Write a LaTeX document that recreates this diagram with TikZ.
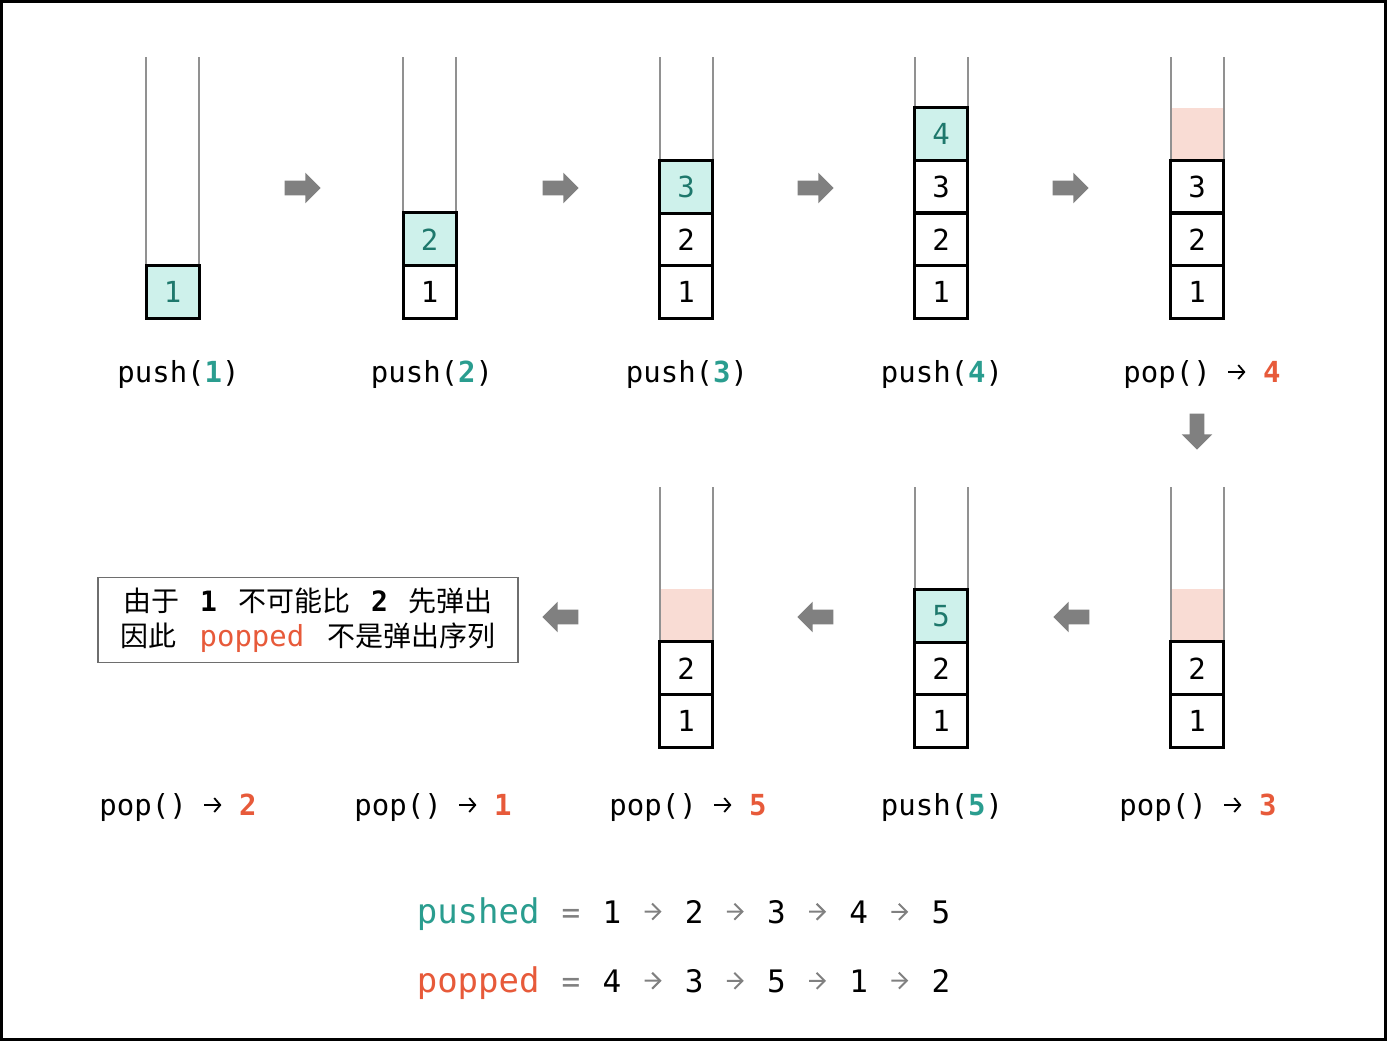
\documentclass[tikz,border=0pt]{standalone}
\usepackage{fontspec}
\setmainfont{DejaVu Sans}
\setmonofont{DejaVu Sans Mono}
\newfontfamily\cjk{Noto Sans CJK SC}
\usetikzlibrary{shapes.arrows,arrows.meta}
\definecolor{pushteal}{RGB}{42,157,143}
\definecolor{cellteal}{RGB}{206,241,235}
\definecolor{darkteal}{RGB}{30,120,108}
\definecolor{popred}{RGB}{231,90,58}
\definecolor{popfill}{RGB}{249,220,212}
\definecolor{arrowgray}{RGB}{128,128,128}
\definecolor{wallgray}{RGB}{145,145,145}
\definecolor{notegray}{RGB}{110,110,110}
\newcommand{\pushv}[1]{\textbf{\color{pushteal}#1}}
\newcommand{\popv}[1]{\textbf{\color{popred}#1}}
\newcommand{\yields}{\makebox[8.7pt][c]{\tikz[baseline={(0pt,-5pt)}]\draw[black,line width=0.9pt,-{Straight Barb[length=3pt,width=7pt]}] (0pt,0pt) -- (8.5pt,0pt);}}

\begin{document}
\begin{tikzpicture}[x=0.5pt,y=-0.5pt,
  font=\ttfamily\fontsize{14.5}{17}\selectfont,
  cell/.style={rectangle,draw=black,line width=1.5pt,minimum size=26.5pt,inner sep=0pt},
  newcell/.style={cell,fill=cellteal,text=darkteal},
  gone/.style={rectangle,fill=popfill,minimum width=25.5pt,minimum height=26.5pt,inner sep=0pt},
  wall/.style={draw=wallgray,line width=1pt},
  fatarrow/.style={single arrow,fill=arrowgray,minimum height=18pt,minimum width=15pt,single arrow head extend=4pt,inner xsep=0pt,inner ysep=3.5pt},
  oplabel/.style={anchor=base,inner sep=0pt},
  note/.style={draw=notegray,line width=0.9pt,minimum width=210pt,minimum height=42.5pt,align=center,inner sep=0pt,font=\cjk\fontsize{14}{17.5}\selectfont},
  seqword/.style={anchor=base east,inner sep=0pt,font=\ttfamily\fontsize{17}{20}\selectfont},
  seq/.style={anchor=base,inner sep=0pt,font=\ttfamily\fontsize{15.5}{18}\selectfont},
  seqarrow/.style={draw=arrowgray,line width=1pt,-{Straight Barb[length=4pt,width=8pt]},shorten <=11.5pt,shorten >=11.5pt}]
  \useasboundingbox (0,0) rectangle (1387,1041);
  \draw[line width=1.5pt] (1.5,1.5) rectangle (1385.5,1039.5);
  % stack walls
  \foreach \x/\yt/\yb in {172.5/57/318, 429.5/57/318, 686/57/318, 941/57/318, 1197/57/318, 686/487/747, 941/487/747, 1197/487/747}
    \draw[wall] (\x-26.5,\yt) -- (\x-26.5,\yb) (\x+26.5,\yt) -- (\x+26.5,\yb);
  % top row
  \foreach \s/\x/\k/\v/\st in {a/172.5/1/1/newcell, b/429.5/1/1/cell, b/429.5/2/2/newcell,
      c/686/1/1/cell, c/686/2/2/cell, c/686/3/3/newcell,
      d/941/1/1/cell, d/941/2/2/cell, d/941/3/3/cell, d/941/4/4/newcell,
      e/1197/4//gone, e/1197/1/1/cell, e/1197/2/2/cell, e/1197/3/3/cell}
    \node[\st] (\s\k) at (\x,{291.75-(\k-1)*52.5}) {\v};
  % bottom row
  \foreach \s/\x/\k/\v/\st in {f/1197/3//gone, f/1197/1/1/cell, f/1197/2/2/cell,
      g/941/1/1/cell, g/941/2/2/cell, g/941/3/5/newcell,
      h/686/3//gone, h/686/1/1/cell, h/686/2/2/cell}
    \node[\st] (\s\k) at (\x,{720.75-(\k-1)*52.5}) {\v};
  % operations
  \node[oplabel] (opa) at (178.5,382) {push(\pushv{1})};
  \node[oplabel] (opb) at (432,382) {push(\pushv{2})};
  \node[oplabel] (opc) at (687,382) {push(\pushv{3})};
  \node[oplabel] (opd) at (942,382) {push(\pushv{4})};
  \node[oplabel] (ope) at (1202,382) {pop() \yields{} \popv{4}};
  \node[oplabel] (opf) at (1198,815) {pop() \yields{} \popv{3}};
  \node[oplabel] (opg) at (942,815) {push(\pushv{5})};
  \node[oplabel] (oph) at (688,815) {pop() \yields{} \popv{5}};
  \node[oplabel] (opi) at (433,815) {pop() \yields{} \popv{1}};
  \node[oplabel] (opj) at (178,815) {pop() \yields{} \popv{2}};
  % step arrows
  \foreach \x in {299,557,812,1067}
    \node[fatarrow] (r\x) at (\x,188) {};
  \node[fatarrow,rotate=-90] (down) at (1197,428) {};
  \foreach \x in {564,819,1075}
    \node[fatarrow,shape border rotate=180] (l\x) at (\x,617) {};
  \node[note] (note) at (308,620) {由于\hspace{10.5pt}{\ttfamily\bfseries 1}\hspace{10.5pt}不可能比\hspace{10.5pt}{\ttfamily\bfseries 2}\hspace{10.5pt}先弹出\\
    因此\hspace{11.75pt}{\ttfamily\fontsize{14.5}{17}\selectfont\color{popred}popped}\hspace{11.75pt}不是弹出序列};
  % sequences
  \node[seqword,text=pushteal] (pushed) at (540,923) {pushed};
  \node[seqword,text=popred] (popped) at (540,992) {popped};
  \foreach \y in {923,992}
    \node[seq,text=arrowgray] (eq\y) at (571,\y) {=};
  \foreach \v [count=\i] in {1,2,3,4,5}
    \node[seq] (pu\i) at ({612+(\i-1)*82.25},923) {\v};
  \foreach \v [count=\i] in {4,3,5,1,2}
    \node[seq] (po\i) at ({612+(\i-1)*82.25},992) {\v};
  \foreach \i [count=\j from 2] in {1,...,4} {
    \draw[seqarrow] (pu\i) -- (pu\j);
    \draw[seqarrow] (po\i) -- (po\j);
  }
\end{tikzpicture}
\end{document}
